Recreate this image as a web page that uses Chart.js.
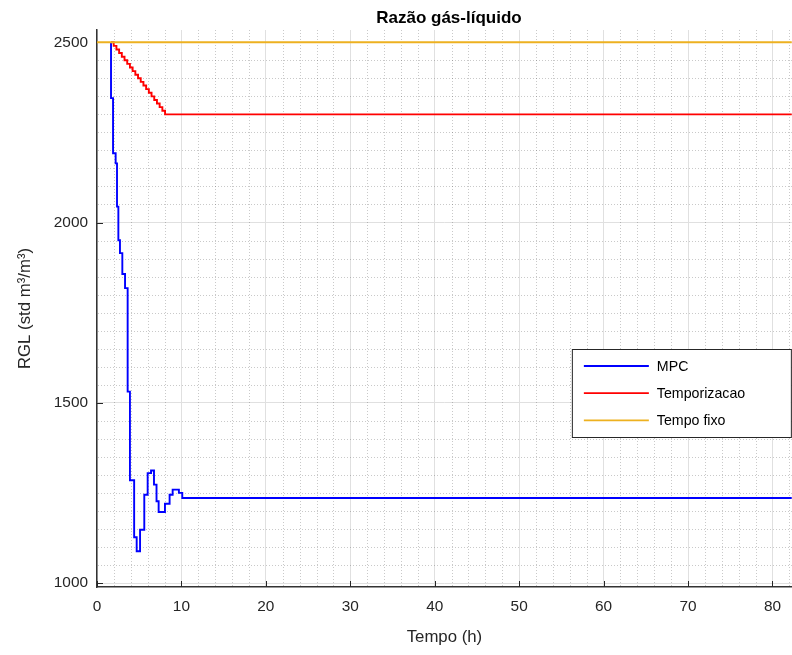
<!DOCTYPE html>
<html><head><meta charset="utf-8">
<script src="https://cdn.jsdelivr.net/npm/chart.js@4.4.1/dist/chart.umd.min.js"></script>
<style>html,body{margin:0;padding:0;background:#fff}canvas{display:block}</style>
</head><body>
<canvas id="c" width="792" height="655"></canvas>
<script>
// ---- data ----
const seriesLabels = ['MPC', 'Temporizacao', 'Tempo fixo'];

const mpcTime = [1.66, 1.66, 1.90, 2.21, 2.37, 2.53, 2.72, 3.00, 3.32, 3.63, 3.90, 4.40, 4.70, 5.10, 5.60, 6.00, 6.40, 6.75, 7.05, 7.30, 8.05, 8.60, 8.96, 9.70, 10.10, 82.3];
const mpcRGL  = [2500, 2345, 2192, 2164, 2044, 1951, 1915, 1857, 1818, 1531, 1285, 1127, 1088, 1148, 1245, 1305, 1312, 1273, 1227, 1197, 1220, 1245, 1259, 1250, 1236, 1236];

const tempTime = [1.66, 1.98, 2.30, 2.62, 2.94, 3.26, 3.58, 3.90, 4.22, 4.54, 4.86, 5.18, 5.50, 5.82, 6.14, 6.46, 6.78, 7.10, 7.42, 7.74, 8.06, 82.3];
const tempRGL  = [2500, 2490, 2480, 2470, 2460, 2450, 2440, 2430, 2420, 2410, 2400, 2390, 2380, 2370, 2360, 2350, 2340, 2330, 2320, 2310, 2300, 2300];

const fixoTime = [0, 82.3];
const fixoRGL  = [2500, 2500];

const xTicks = [0, 10, 20, 30, 40, 50, 60, 70, 80];
const yTicks = [1000, 1500, 2000, 2500];
const xMinorStep = 2, yMinorStep = 50;
const X_MIN = 0, X_MAX = 82.3, Y_MIN = 989, Y_MAX = 2534;

const titleText = 'Razão gás-líquido';
const xTitle = 'Tempo (h)';
const yTitle = 'RGL (std m³/m³)';
const seriesColors = ['#0000ff', '#ff0000', '#edb120'];

// ---- chart ----
const FONT = '"Liberation Sans", Arial, Helvetica, sans-serif';
const TXT = '#262626';
const toPts = (t, v) => t.map((x, i) => ({ x: x, y: v[i] }));

const deco = {
  id: 'deco',
  beforeDatasetsDraw(chart) {
    const { ctx, chartArea: a, scales } = chart;
    const xs = scales.x, ys = scales.y;
    ctx.save();
    // minor dotted grid
    ctx.strokeStyle = 'rgba(38,38,38,0.25)';
    ctx.lineWidth = 1;
    ctx.setLineDash([1, 2]);
    ctx.beginPath();
    for (let k = 1; k * xMinorStep < X_MAX; k++) {
      const v = k * xMinorStep;
      if (xTicks.includes(v)) continue;
      const px = Math.round(xs.getPixelForValue(v)) + 0.5;
      ctx.moveTo(px, a.top); ctx.lineTo(px, a.bottom);
    }
    for (let v = Math.ceil(Y_MIN / yMinorStep) * yMinorStep; v <= Y_MAX; v += yMinorStep) {
      if (yTicks.includes(v)) continue;
      const py = Math.round(ys.getPixelForValue(v)) + 0.5;
      ctx.moveTo(a.left + 1, py); ctx.lineTo(a.right, py);
    }
    ctx.stroke();
    // inward major tick marks
    ctx.setLineDash([]);
    ctx.strokeStyle = '#262626';
    ctx.lineWidth = 1;
    ctx.beginPath();
    xTicks.forEach(v => {
      const px = Math.round(xs.getPixelForValue(v)) + 0.5;
      ctx.moveTo(px, a.bottom); ctx.lineTo(px, a.bottom - 6);
    });
    yTicks.forEach(v => {
      const py = Math.round(ys.getPixelForValue(v)) + 0.5;
      ctx.moveTo(a.left, py); ctx.lineTo(a.left + 6, py);
    });
    ctx.stroke();
    ctx.restore();
  },
  afterDraw(chart) {
    const { ctx, chartArea: a } = chart;
    ctx.save();
    // title
    ctx.fillStyle = '#000';
    ctx.font = 'bold 17px ' + FONT;
    ctx.textAlign = 'center';
    ctx.textBaseline = 'alphabetic';
    ctx.fillText(titleText, (a.left + a.right) / 2 + 4.5, 22.5);
    // legend
    const w = 219, h = 88;
    const lx = a.right - w - 1, ly = a.top + 319;
    ctx.fillStyle = '#fff';
    ctx.fillRect(lx, ly, w, h);
    ctx.strokeStyle = '#262626';
    ctx.lineWidth = 1;
    ctx.strokeRect(lx + 0.5, ly + 0.5, w, h);
    ctx.font = '14.2px ' + FONT;
    ctx.textAlign = 'left';
    ctx.textBaseline = 'middle';
    seriesLabels.forEach((lab, i) => {
      const ry = ly + 17 + i * 27.2;
      ctx.strokeStyle = seriesColors[i];
      ctx.lineWidth = 1.8;
      ctx.beginPath();
      ctx.moveTo(lx + 12, ry); ctx.lineTo(lx + 77, ry);
      ctx.stroke();
      ctx.fillStyle = '#000';
      ctx.fillText(lab, lx + 85, ry + 1);
    });
    ctx.restore();
  }
};

const mkSet = (i, t, v, order) => ({
  label: seriesLabels[i],
  data: toPts(t, v),
  borderColor: seriesColors[i],
  backgroundColor: seriesColors[i],
  borderWidth: 1.9,
  pointRadius: 0,
  stepped: 'before',
  fill: false,
  order: order
});

new Chart(document.getElementById('c'), {
  type: 'line',
  data: {
    datasets: [
      mkSet(0, mpcTime, mpcRGL, 3),
      mkSet(1, tempTime, tempRGL, 2),
      mkSet(2, fixoTime, fixoRGL, 1)
    ]
  },
  options: {
    responsive: false,
    animation: false,
    events: [],
    layout: { padding: { top: 30, left: 0, right: 0, bottom: 0 } },
    plugins: { legend: { display: false }, tooltip: { enabled: false }, title: { display: false } },
    scales: {
      x: {
        type: 'linear', min: X_MIN, max: X_MAX,
        afterBuildTicks: s => { s.ticks = xTicks.map(v => ({ value: v })); },
        afterFit: s => { s.height = 68; },
        grid: { color: '#e0e0e0', lineWidth: 1, drawTicks: false },
        border: { color: '#333333', width: 1.5 },
        ticks: { color: TXT, font: { family: FONT, size: 15.4 }, padding: 11, maxRotation: 0, autoSkip: false, callback: v => String(v) },
        title: { display: true, text: xTitle, color: TXT, font: { family: FONT, size: 16.8 }, padding: { top: 0, bottom: 8 } }
      },
      y: {
        type: 'linear', min: Y_MIN, max: Y_MAX,
        afterBuildTicks: s => { s.ticks = yTicks.map(v => ({ value: v })); },
        afterFit: s => { s.width = 97; },
        grid: { color: '#e0e0e0', lineWidth: 1, drawTicks: false },
        border: { color: '#333333', width: 1.5 },
        ticks: { color: TXT, font: { family: FONT, size: 15.4 }, padding: 9, autoSkip: false, callback: v => String(v) },
        title: { display: true, text: yTitle, color: TXT, font: { family: FONT, size: 16.8 }, padding: { top: 15, bottom: 0 } }
      }
    }
  },
  plugins: [deco]
});
</script>
</body></html>
